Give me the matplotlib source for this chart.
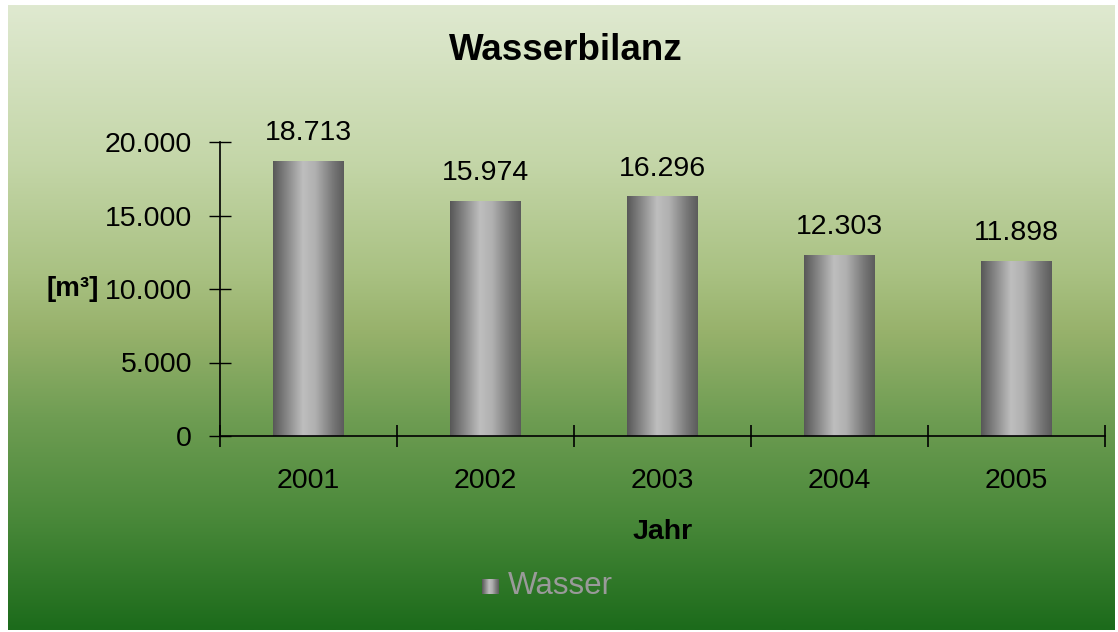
import numpy as np
import matplotlib
matplotlib.use("Agg")
import matplotlib.pyplot as plt
from matplotlib.colors import LinearSegmentedColormap
from matplotlib.patches import Rectangle

plt.rcParams['font.family'] = ['Liberation Sans', 'DejaVu Sans']

years = ["2001", "2002", "2003", "2004", "2005"]
wasser = [18713, 15974, 16296, 12303, 11898]
value_labels = ["18.713", "15.974", "16.296", "12.303", "11.898"]
y_ticks = [0, 5000, 10000, 15000, 20000]
y_tick_labels = ["0", "5.000", "10.000", "15.000", "20.000"]

W, H = 1118, 632
fig = plt.figure(figsize=(W / 100, H / 100), dpi=100)
fig.patch.set_facecolor("white")

# background panel with vertical green gradient
bg = fig.add_axes([0, 0, 1, 1], zorder=0)
bg.set_xlim(0, W)
bg.set_ylim(H, 0)
bg.axis("off")
bg_cmap = LinearSegmentedColormap.from_list("bg", [
    (0.0, "#dfe9d0"), (0.25, "#c4d6a8"), (0.43, "#a9c182"), (0.52, "#98b26c"),
    (0.66, "#6f9d53"), (0.82, "#4a893a"), (1.0, "#1c6b1b")])
grad = np.linspace(0, 1, 256).reshape(-1, 1)
bg.imshow(grad, cmap=bg_cmap, aspect="auto", extent=(8, 1115, 630, 5))

ax = fig.add_axes([220 / W, 1 - 436 / H, 885 / W, 294 / H], zorder=1)
ax.patch.set_alpha(0)

x = np.arange(len(years))
bars = ax.bar(x, wasser, width=0.4, color="none", edgecolor="none")

bar_cmap = LinearSegmentedColormap.from_list("bar", [
    (0.0, "#585858"), (0.2, "#888888"), (0.42, "#bebebe"), (0.6, "#b0b0b0"),
    (0.85, "#777777"), (1.0, "#5c5c5c")])
hgrad = np.linspace(0, 1, 128).reshape(1, -1)
for b in bars:
    x0, w, h = b.get_x(), b.get_width(), b.get_height()
    im = ax.imshow(hgrad, cmap=bar_cmap, aspect="auto",
                   extent=(x0, x0 + w, 0, h), zorder=2)
    clip = Rectangle((x0, 0), w, h, transform=ax.transData)
    im.set_clip_path(clip)

for xi, v, lab in zip(x, wasser, value_labels):
    ax.text(xi, v + 1000, lab, ha="center", va="bottom", fontsize=20.5, color="black")

ax.set_xlim(-0.5, len(years) - 0.5)
ax.set_ylim(0, 20000)

for s in ["top", "right"]:
    ax.spines[s].set_visible(False)
ax.spines["left"].set_linewidth(1.2)
ax.spines["bottom"].set_linewidth(1.2)

ax.set_yticks(y_ticks)
ax.set_yticklabels(y_tick_labels, fontsize=20.5)
ax.tick_params(axis="y", direction="inout", length=16, width=1, pad=12)

ax.set_xticks(x)
ax.set_xticklabels(years, fontsize=20.5)
ax.tick_params(axis="x", which="major", length=0, pad=23)
ax.set_xticks(np.arange(-0.5, len(years)), minor=True)
ax.tick_params(axis="x", which="minor", direction="inout", length=16, width=1.2)

ax.set_xlabel("Jahr", fontsize=20.5, fontweight="bold", labelpad=18)
ax.set_ylabel("[m³]", fontsize=20, fontweight="bold", rotation=0,
              ha="right", va="center", labelpad=0)
ax.yaxis.set_label_coords(-0.137, 0.5)

fig.text(566 / W, 1 - 50 / H, "Wasserbilanz", ha="center", va="center",
         fontsize=26.5, fontweight="bold")

# legend
lg = fig.add_axes([0, 0, 1, 1], zorder=2)
lg.set_xlim(0, W)
lg.set_ylim(H, 0)
lg.axis("off")
lg.patch.set_alpha(0)
lg.imshow(hgrad, cmap=bar_cmap, aspect="auto", extent=(482, 499, 594, 579), zorder=3)
lg.text(508, 586, "Wasser", ha="left", va="center", fontsize=22.5, color="#9a9a9a")

fig.savefig("out.png", dpi=100)
